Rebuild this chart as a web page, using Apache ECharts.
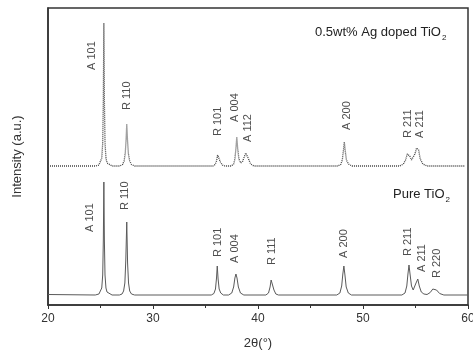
<!DOCTYPE html>
<html>
<head>
<meta charset="utf-8">
<script src="https://cdn.jsdelivr.net/npm/echarts@6/dist/echarts.min.js"></script>
<style>
  html, body { margin: 0; padding: 0; background: #fff; }
  #chart { width: 473px; height: 353px; }
</style>
</head>
<body>
<div id="chart"></div>
<script>
// 2theta, intensity (a.u.) - pure TiO2 (solid trace)
const pureTrace = [
  [20, 10.5], [24.5, 10], [24.85, 11], [25.02, 13], [25.12, 17], [25.21, 30], [25.27, 65], [25.32, 123],
  [25.37, 65], [25.43, 30], [25.52, 17], [25.62, 13], [25.8, 11], [26.1, 10],
  [26.8, 10], [27.05, 11], [27.2, 14], [27.32, 22], [27.41, 45], [27.5, 83], [27.58, 42],
  [27.67, 22], [27.78, 14], [27.95, 11], [28.25, 10],
  [35.55, 10], [35.8, 11.5], [35.95, 16], [36.05, 27], [36.12, 39], [36.2, 26], [36.3, 16], [36.45, 12], [36.7, 10],
  [37.2, 10], [37.5, 12], [37.68, 18], [37.8, 27], [37.9, 31], [38.0, 27], [38.13, 18], [38.33, 12], [38.65, 10],
  [40.75, 10], [41.0, 12], [41.15, 18], [41.25, 25], [41.32, 27], [41.4, 23], [41.52, 15], [41.7, 11], [41.95, 10],
  [47.5, 10], [47.8, 12], [47.97, 19], [48.08, 31], [48.18, 39], [48.28, 30], [48.4, 18], [48.6, 12], [48.9, 10],
  [53.7, 10], [54.0, 12], [54.17, 19], [54.28, 31], [54.38, 40], [54.48, 31], [54.62, 19], [54.78, 15], [54.9, 16],
  [55.05, 22], [55.22, 26], [55.36, 19], [55.55, 13], [55.8, 11],
  [56.1, 10.5], [56.4, 12.5], [56.65, 16], [56.82, 17], [57.0, 15], [57.3, 11.5], [57.7, 10],
  [60, 10]
];

// 2theta, intensity (a.u.) - 0.5wt% Ag doped TiO2 (dotted trace)
const dopedTrace = [
  [20, 139], [24.5, 139], [24.85, 140], [25.02, 142], [25.12, 147], [25.21, 162], [25.27, 205], [25.32, 282],
  [25.37, 205], [25.43, 162], [25.52, 147], [25.62, 142], [25.8, 140], [26.1, 139],
  [26.85, 139], [27.1, 140.5], [27.25, 144], [27.36, 152], [27.44, 166], [27.5, 181], [27.57, 165],
  [27.66, 151], [27.78, 144], [27.95, 140.5], [28.25, 139],
  [35.7, 139], [35.92, 140.5], [36.05, 144], [36.15, 150], [36.22, 152], [36.3, 149], [36.42, 143], [36.6, 140], [36.85, 139],
  [37.45, 139], [37.68, 141], [37.8, 146], [37.9, 157], [37.98, 168], [38.06, 157], [38.18, 146],
  [38.35, 142], [38.55, 144], [38.72, 149], [38.83, 152], [38.9, 153], [38.98, 151], [39.1, 146], [39.3, 141], [39.6, 139],
  [47.6, 139], [47.88, 140.5], [48.03, 145], [48.14, 155], [48.22, 163], [48.3, 155], [48.42, 145], [48.62, 141], [48.95, 139],
  [53.5, 139], [53.85, 141], [54.05, 145], [54.22, 151], [54.32, 153], [54.45, 149], [54.62, 145], [54.78, 146],
  [54.95, 151], [55.1, 157], [55.2, 159], [55.3, 155], [55.45, 146], [55.7, 141], [56.1, 139],
  [59.7, 139]
];

// peak labels (name, 2theta of label, intensity level of label start)
const pureNames = ["A 101", "R 110", "R 101", "A 004", "R 111", "A 200", "R 211", "A 211", "R 220"];
const pureLabelX = [24.0, 27.33, 36.19, 37.81, 41.33, 48.19, 54.29, 55.62, 57.05];
const pureLabelY = [73, 95, 48, 42, 40, 47, 49, 33, 27];

const dopedNames = ["A 101", "R 110", "R 101", "A 004", "A 112", "A 200", "R 211", "A 211"];
const dopedLabelX = [24.19, 27.52, 36.19, 37.81, 39.05, 48.48, 54.29, 55.43];
const dopedLabelY = [235, 195, 169, 183, 163, 175, 167, 167];

const xTicks = [20, 30, 40, 50, 60];

const FONT = "Liberation Sans, Arial, sans-serif";

function labelPoints(names, xs, ys) {
  return names.map((n, i) => ({ name: n, value: [xs[i], ys[i]] }));
}

const chart = echarts.init(document.getElementById("chart"));

const labelStyle = {
  show: true,
  formatter: (p) => p.name,
  position: [0, 0],
  rotate: 90,
  align: "left",
  verticalAlign: "middle",
  fontFamily: FONT,
  fontSize: 11,
  color: "#222",
};

const subStyle = {
  a: { fontFamily: FONT, fontSize: 13, fill: "#222", verticalAlign: "bottom" },
  s: { fontFamily: FONT, fontSize: 8, fill: "#222", verticalAlign: "bottom", padding: [0, 0, -3, 1] },
};

const option = {
  animation: false,
  backgroundColor: "#fff",
  grid: {
    left: 48,
    right: 5,
    top: 8,
    bottom: 48,
    outerBoundsMode: "none",
    show: true,
    borderColor: "#333",
    borderWidth: 1.5,
  },
  xAxis: {
    type: "value",
    min: 20,
    max: 60,
    interval: 10,
    name: "2θ(°)",
    nameLocation: "middle",
    nameGap: 32,
    nameTextStyle: { fontFamily: FONT, fontSize: 13, color: "#333" },
    axisLine: { lineStyle: { color: "#333", width: 1.5 } },
    axisTick: { length: 4, lineStyle: { color: "#333" } },
    minorTick: { show: true, splitNumber: 2, length: 3, lineStyle: { color: "#333" } },
    axisLabel: {
      fontFamily: FONT,
      fontSize: 12,
      color: "#333",
      margin: 8,
      formatter: (v) => (xTicks.includes(v) ? String(v) : ""),
    },
    splitLine: { show: false },
  },
  yAxis: {
    type: "value",
    min: 0,
    max: 297,
    name: "Intensity (a.u.)",
    nameLocation: "middle",
    nameGap: 24,
    nameRotate: 90,
    nameTextStyle: { fontFamily: FONT, fontSize: 13, color: "#333" },
    axisLine: { show: true, lineStyle: { color: "#333", width: 1.5 } },
    axisTick: { show: false },
    axisLabel: { show: false },
    splitLine: { show: false },
  },
  series: [
    {
      type: "line",
      data: pureTrace,
      showSymbol: false,
      lineStyle: { color: "#5a5a5a", width: 1 },
    },
    {
      type: "line",
      data: dopedTrace,
      showSymbol: false,
      lineStyle: { color: "#444", width: 1.3, type: [1, 1] },
    },
    {
      type: "scatter",
      data: labelPoints(pureNames, pureLabelX, pureLabelY),
      symbolSize: 0,
      label: labelStyle,
    },
    {
      type: "scatter",
      data: labelPoints(dopedNames, dopedLabelX, dopedLabelY),
      symbolSize: 0,
      label: labelStyle,
    },
  ],
  graphic: [
    {
      type: "text",
      left: 315,
      top: 26,
      style: { text: "{a|0.5wt% Ag doped TiO}{s|2}", rich: subStyle },
    },
    {
      type: "text",
      left: 393,
      top: 188,
      style: { text: "{a|Pure TiO}{s|2}", rich: subStyle },
    },
  ],
};

chart.setOption(option);
</script>
</body>
</html>
